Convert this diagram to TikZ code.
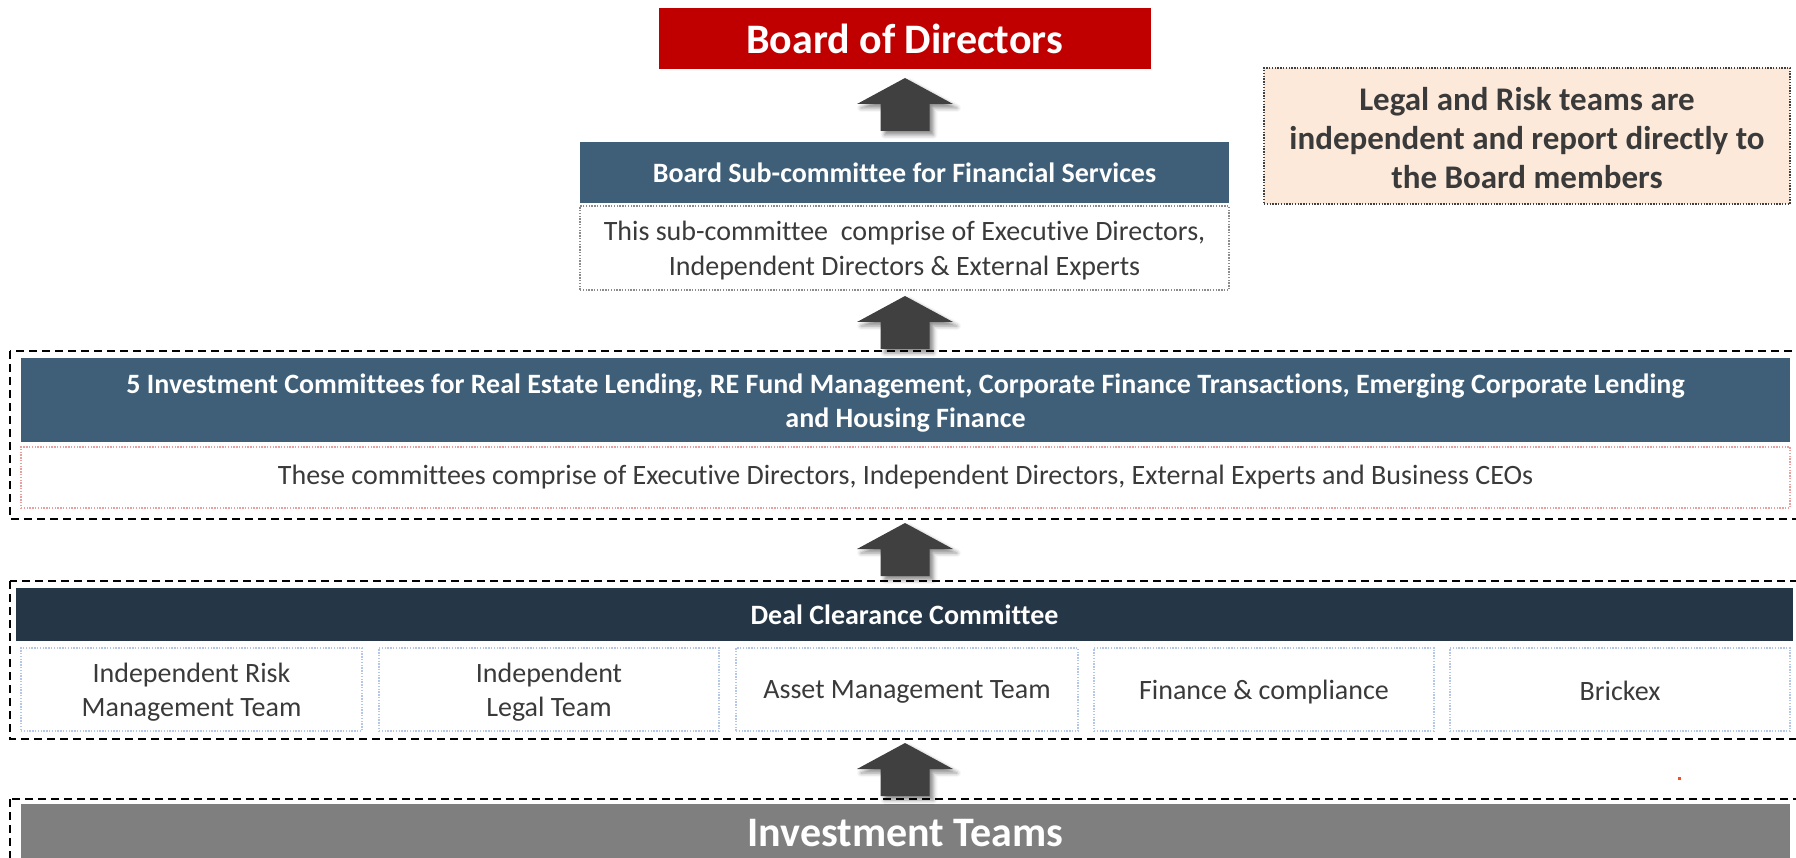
\documentclass[tikz,border=0pt]{standalone}
\usepackage{fontspec}
\setmainfont{Carlito}[RawFeature={-liga;-clig;-calt;-dlig;-rlig}]
\usetikzlibrary{shadows.blur,calc}
\definecolor{bodred}{HTML}{C00000}
\definecolor{hdrblue}{HTML}{3F5F78}
\definecolor{navy}{HTML}{253746}
\definecolor{teamgray}{HTML}{7F7F7F}
\definecolor{arrowgray}{HTML}{404040}
\definecolor{txtgray}{HTML}{3A3A3A}
\definecolor{peach}{HTML}{FDE9D9}
\definecolor{lightblue}{HTML}{B4C7E7}
\definecolor{lightred}{HTML}{EBA0A0}
\definecolor{dotgray}{HTML}{8C8C8C}
\definecolor{strayred}{HTML}{F05030}
\tikzset{
  x=1pt,y=-1pt,
  hdr/.style={rectangle, inner sep=0pt, text=white, font=\bfseries\fontsize{28}{34}\selectfont, align=center},
  desc/.style={rectangle, inner sep=0pt, text=txtgray, font=\fontsize{28}{35}\selectfont, align=center, line width=1.4pt, dash pattern=on 1.4pt off 1.4pt},
  outerbox/.style={draw=black, line width=2pt, dash pattern=on 8pt off 5pt},
  blockarrow/.style={fill=arrowgray, blur shadow={shadow xshift=4pt, shadow yshift=-4pt, shadow blur radius=4pt, shadow opacity=45}},
}
\newcommand\upblockarrow[1]{%
  \path[blockarrow] ($(#1)$) -- ++(48,26) -- ++(-23.5,0) -- ++(0,27) -- ++(-49,0) -- ++(0,-27) -- ++(-23.5,0) -- cycle;}
\begin{document}
\begin{tikzpicture}
\useasboundingbox (0,0) rectangle (1796,858);
\clip (0,0) rectangle (1796,858);

% Board of Directors
\node[hdr, fill=bodred, minimum width=492pt, minimum height=61pt, font=\bfseries\fontsize{42}{50}\selectfont] (bod) at (904.5,38.5) {Board of Directors};

% Sub-committee
\node[hdr, fill=hdrblue, minimum width=649pt, minimum height=61pt] (subT) at (904.5,172.5) {Board Sub-committee for Financial Services};
\node[desc, draw=dotgray, minimum width=649pt, minimum height=84pt] (subD) at (904.5,248) {};
\node[text=txtgray, font=\fontsize{28}{35}\selectfont, align=center, inner sep=0pt] (subDt) at (904.5,251) {This sub-committee\ \ comprise of Executive Directors,\\Independent Directors \& External Experts};

% Legal note
\node[rectangle, inner sep=0pt, fill=peach, draw=arrowgray, line width=1.4pt, dash pattern=on 1.4pt off 1.4pt, minimum width=526pt, minimum height=136pt] (legal) at (1527,136) {};
\node[text=txtgray, font=\bfseries\fontsize{33}{39}\selectfont, align=center, inner sep=0pt] (legalt) at (1527,138) {Legal and Risk teams are\\independent and report directly to\\the Board members};

% Investment committees group
\draw[outerbox] (10,351) rectangle (1812,519);
\node[hdr, fill=hdrblue, minimum width=1769pt, minimum height=84pt] (icT) at (905.5,400) {};
\node[text=white, font=\bfseries\fontsize{28}{34}\selectfont, align=center, inner sep=0pt] (icTt) at (905.5,403) {5 Investment Committees for Real Estate Lending, RE Fund Management, Corporate Finance Transactions, Emerging Corporate Lending\\and Housing Finance};
\node[desc, draw=lightred, minimum width=1769pt, minimum height=61pt] (icD) at (905.5,477.5) {These committees comprise of Executive Directors, Independent Directors, External Experts and Business CEOs};

% Deal clearance group
\draw[outerbox] (10,581) rectangle (1812,739);
\node[hdr, fill=navy, minimum width=1777pt, minimum height=53pt] (dcc) at (904.5,614.5) {Deal Clearance Committee};
\node[desc, draw=lightblue, minimum width=341pt, minimum height=83pt] (b1) at (191.5,689.5) {};
\node[text=txtgray, font=\fontsize{28}{34}\selectfont, align=center, inner sep=0pt] at (191.5,692.5) {Independent Risk\\Management Team};
\node[desc, draw=lightblue, minimum width=340pt, minimum height=83pt] (b2) at (549,689.5) {};
\node[text=txtgray, font=\fontsize{28}{34}\selectfont, align=center, inner sep=0pt] at (549,692.5) {Independent\\Legal Team};
\node[desc, draw=lightblue, minimum width=342pt, minimum height=83pt] (b3) at (907,689.5) {};
\node[text=txtgray, font=\fontsize{28}{34}\selectfont, align=center, inner sep=0pt] at (907,691.5) {Asset Management Team};
\node[desc, draw=lightblue, minimum width=340pt, minimum height=83pt] (b4) at (1264,689.5) {};
\node[text=txtgray, font=\fontsize{28}{34}\selectfont, align=center, inner sep=0pt] at (1264,692.5) {Finance \& compliance};
\node[desc, draw=lightblue, minimum width=340pt, minimum height=83pt] (b5) at (1620,689.5) {};
\node[text=txtgray, font=\fontsize{28}{34}\selectfont, align=center, inner sep=0pt] at (1620,691) {Brickex};

% Investment teams group
\draw[outerbox] (10,799) rectangle (1812,900);
\node[hdr, fill=teamgray, minimum width=1769pt, minimum height=58pt, font=\bfseries\fontsize{42}{50}\selectfont] (inv) at (905.5,833) {Investment Teams};

% Block arrows
\upblockarrow{905,78}
\upblockarrow{905,296}
\upblockarrow{905,523}
\upblockarrow{905,743}

% stray mark
\fill[strayred] (1678,777) rectangle (1680.5,779.5);
\end{tikzpicture}
\end{document}
